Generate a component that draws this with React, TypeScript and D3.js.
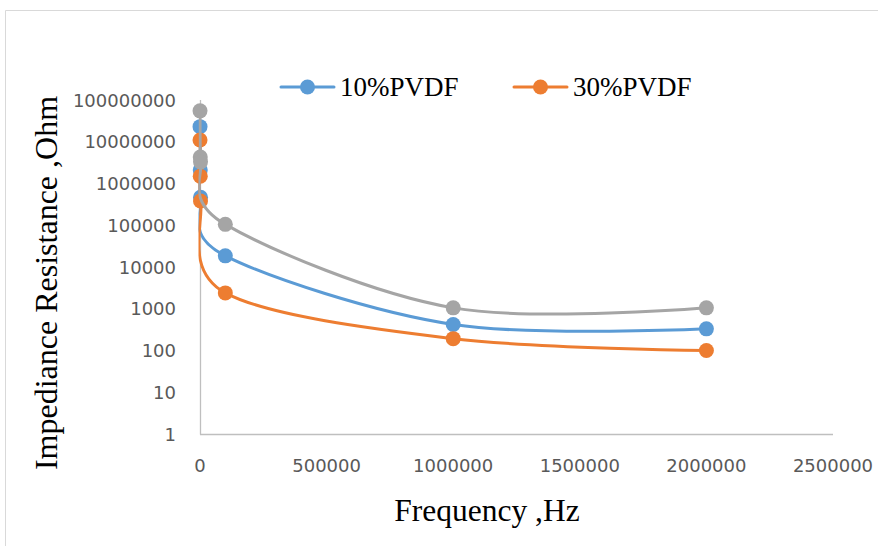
import React from "react";
import * as d3 from "d3";

const frequencies = [100, 1000, 2000, 100000, 1000000, 2000000];
const pvdf10 = [23000000, 2100000, 470000, 18500, 420, 330];
const pvdf30 = [11000000, 1500000, 380000, 2400, 192, 100];
const pvdf20 = [55000000, 4300000, 3300000, 105000, 1050, 1050];

const xTicks = [0, 500000, 1000000, 1500000, 2000000, 2500000];
const yTicks = [1, 10, 100, 1000, 10000, 100000, 1000000, 10000000, 100000000];

const seriesList = [
  { name: "10%PVDF", values: pvdf10, color: "#5B9BD5", legend: true },
  { name: "30%PVDF", values: pvdf30, color: "#ED7D31", legend: true },
  { name: "20%PVDF", values: pvdf20, color: "#A5A5A5", legend: false },
];

const W = 878;
const H = 546;

export default function App() {
  const x = d3.scaleLinear().domain([0, 2500000]).range([200, 833]);
  const y = d3.scaleLog().domain([1, 100000000]).range([434, 100]);
  const line = d3
    .line<[number, number]>()
    .x((d) => x(d[0]))
    .y((d) => y(d[1]))
    .curve(d3.curveCardinal.tension(0));

  const legendItems = [
    { s: seriesList[0], lx: 281, tx: 340 },
    { s: seriesList[1], lx: 514, tx: 573 },
  ];

  return (
    <div style={{ position: "fixed", left: 0, top: 0 }}>
      <svg width={W} height={H} style={{ display: "block", background: "#fff" }}>
        <defs>
          <clipPath id="plotClip">
            <rect x={198.5} y={90} width={640} height={345} />
          </clipPath>
        </defs>
        <rect x={0} y={0} width={W} height={H} fill="#fff" />
        <path d={`M5.5,${H} V10.5 H${W}`} fill="none" stroke="#D9D9D9" strokeWidth={1} />
        {/* axes */}
        <line x1={x(0)} x2={x(2500000)} y1={434.5} y2={434.5} stroke="#BFBFBF" strokeWidth={1.3} />
        <line x1={200.5} x2={200.5} y1={y(100000000)} y2={434.5} stroke="#BFBFBF" strokeWidth={1.3} />
        {/* y tick labels */}
        {yTicks.map((t) => (
          <text
            key={"y" + t}
            x={176}
            y={y(t) + 6.5}
            textAnchor="end"
            fontFamily="DejaVu Sans"
            fontSize={18}
            fill="#595959"
          >
            {String(t)}
          </text>
        ))}
        {/* x tick labels */}
        {xTicks.map((t) => (
          <text
            key={"x" + t}
            x={x(t)}
            y={472}
            textAnchor="middle"
            fontFamily="DejaVu Sans"
            fontSize={18}
            fill="#595959"
          >
            {String(t)}
          </text>
        ))}
        {/* series */}
        {seriesList.map((s) => {
          const pts = frequencies.map((f, i) => [f, s.values[i]] as [number, number]);
          return (
            <g key={s.name}>
              <path
                d={line(pts) || ""}
                fill="none"
                stroke={s.color}
                strokeWidth={3}
                strokeLinecap="round"
                clipPath="url(#plotClip)"
              />
              {pts.map((p, i) => (
                <circle key={i} cx={x(p[0])} cy={y(p[1])} r={7.5} fill={s.color} />
              ))}
            </g>
          );
        })}
        {/* legend */}
        {legendItems.map(({ s, lx, tx }) => (
          <g key={"lg" + s.name}>
            <line x1={lx} x2={lx + 53} y1={87} y2={87} stroke={s.color} strokeWidth={3} strokeLinecap="round" />
            <circle cx={lx + 26.5} cy={87} r={7.5} fill={s.color} />
            <text x={tx} y={96} fontFamily="Liberation Serif" fontSize={27} fill="#000">
              {s.name}
            </text>
          </g>
        ))}
        {/* axis titles */}
        <text x={487} y={521} textAnchor="middle" fontFamily="Liberation Serif" fontSize={31.5} fill="#000">
          Frequency ,Hz
        </text>
        <text
          transform={`translate(57,283) rotate(-90)`}
          textAnchor="middle"
          fontFamily="Liberation Serif"
          fontSize={32}
          fill="#000"
        >
          Impediance Resistance ,Ohm
        </text>
      </svg>
    </div>
  );
}
